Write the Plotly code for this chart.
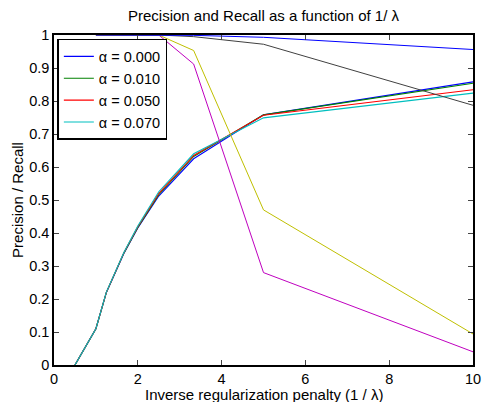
import plotly.graph_objects as go

x_vals = [0.5, 1, 1.25, 1.667, 2, 2.5, 3.333, 5, 10]

recall_a000 = [0, 0.11, 0.22, 0.338, 0.415, 0.512, 0.625, 0.758, 0.858]
recall_a010 = [0, 0.11, 0.22, 0.339, 0.417, 0.516, 0.632, 0.758, 0.854]
recall_a050 = [0, 0.11, 0.22, 0.340, 0.419, 0.520, 0.635, 0.757, 0.834]
recall_a070 = [0, 0.11, 0.221, 0.341, 0.421, 0.525, 0.640, 0.749, 0.824]

precision_a000 = [None, 1, 1, 1, 1, 1, 0.912, 0.28, 0.04]
precision_a010 = [None, 1, 1, 1, 1, 1, 0.953, 0.47, 0.094]
precision_a050 = [None, 1, 1, 1, 1, 1, 0.995, 0.972, 0.787]
precision_a070 = [None, 1, 1, 1, 1, 1, 0.999, 0.993, 0.956]

alpha_labels = ["α = 0.000", "α = 0.010", "α = 0.050", "α = 0.070"]
recall_colors = ["#0000FF", "#008000", "#FF0000", "#00BFBF"]
precision_colors = ["#BF00BF", "#BFBF00", "#404040", "#0000FF"]

title_text = "Precision and Recall as a function of 1/ λ"
x_title = "Inverse regularization penalty (1 / λ)"
y_title = "Precision / Recall"
x_ticks = [0, 2, 4, 6, 8, 10]
y_ticks = [0, 0.1, 0.2, 0.3, 0.4, 0.5, 0.6, 0.7, 0.8, 0.9, 1]
y_tick_text = ["0", "0.1", "0.2", "0.3", "0.4", "0.5", "0.6", "0.7", "0.8", "0.9", "1"]

fig = go.Figure()
recalls = [recall_a000, recall_a010, recall_a050, recall_a070]
precisions = [precision_a000, precision_a010, precision_a050, precision_a070]

for lab, ys, c in zip(alpha_labels, recalls, recall_colors):
    fig.add_trace(go.Scatter(x=x_vals, y=ys, mode="lines", name=lab,
                             line=dict(color=c, width=1.1)))
for lab, ys, c in zip(alpha_labels, precisions, precision_colors):
    fig.add_trace(go.Scatter(x=x_vals, y=ys, mode="lines", name=lab + " (precision)",
                             showlegend=False, line=dict(color=c, width=1)))

font_family = "Liberation Sans, Arial, Helvetica, sans-serif"
fig.update_layout(
    width=482, height=402,
    margin=dict(l=54, r=9, t=35, b=37, autoexpand=False),
    paper_bgcolor="white", plot_bgcolor="white",
    font=dict(family=font_family, size=14, color="black"),
    title=dict(text=title_text, x=0.5, xref="paper", xanchor="center",
               y=1 - 16 / 402, yanchor="middle", font=dict(size=15)),
    showlegend=True,
    legend=dict(x=0.008, y=0.988, xanchor="left", yanchor="top",
                bordercolor="black", borderwidth=1.5, bgcolor="white",
                font=dict(size=14.5), tracegroupgap=0, itemwidth=30),
    xaxis=dict(range=[0, 10], tickvals=x_ticks, ticks="inside", ticklen=5,
               showline=True, linecolor="black", linewidth=1.5, mirror="ticks",
               showgrid=False, zeroline=False, tickfont=dict(size=14.5), automargin=False),
    yaxis=dict(range=[0, 1], tickvals=y_ticks, ticktext=y_tick_text, ticks="inside",
               ticklen=5, showline=True, linecolor="black", linewidth=1.5, mirror="ticks",
               showgrid=False, zeroline=False, tickfont=dict(size=14.5), automargin=False,
               title=dict(text=y_title, standoff=2, font=dict(size=15))),
    annotations=[dict(text=x_title, xref="paper", yref="paper", x=0.5, y=0,
                      xanchor="center", yanchor="middle", yshift=-29,
                      showarrow=False, font=dict(size=15))],
)

fig.write_html("out.html", config={"displayModeBar": False},
               post_script="document.body.style.margin='0';document.body.style.overflow='hidden';")
